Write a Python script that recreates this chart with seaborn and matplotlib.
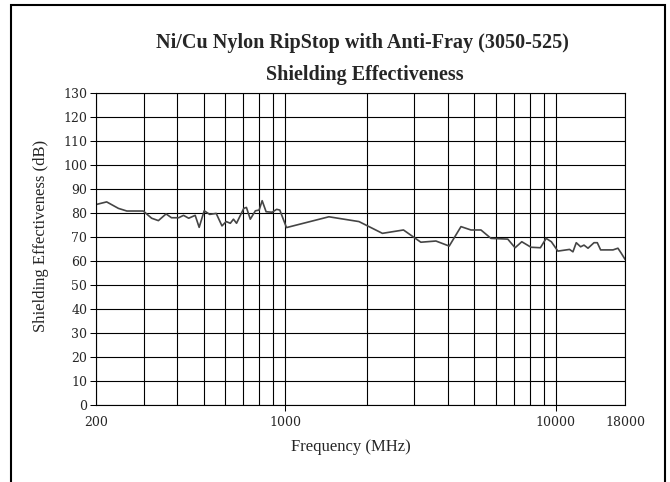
import matplotlib
matplotlib.use("Agg")
import matplotlib.pyplot as plt
import seaborn as sns
from matplotlib.patches import Rectangle
from matplotlib.ticker import FixedLocator, NullFormatter

# values
freq_mhz = [200, 219, 242, 260, 299, 321, 340, 363, 380, 404, 421, 440, 465, 481, 502,
            526, 556, 584, 605, 627, 644, 661, 703, 719, 743, 776, 801, 822, 850, 895,
            930, 955, 1011, 1450, 1873, 2286, 2735, 3170, 3604, 4035, 4460, 4856, 5286,
            5757, 6640, 7066, 7482, 8094, 8763, 9204, 9620, 10170, 11230, 11560, 11890,
            12340, 12700, 13140, 13830, 14220, 14630, 16250, 16950, 17440, 18000]
shielding_db = [83.4, 84.5, 81.8, 80.7, 80.7, 77.7, 76.7, 79.5, 77.9, 77.9, 78.9, 77.7,
                78.9, 73.9, 80.8, 79.3, 79.7, 74.5, 76.3, 75.6, 77.3, 75.6, 81.8, 82.2,
                77.3, 80.8, 81.1, 85.0, 80.4, 80.2, 81.4, 81.1, 73.8, 78.3, 76.3, 71.4,
                72.8, 67.7, 68.2, 66.1, 74.2, 72.8, 72.8, 69.3, 69.0, 65.4, 67.9, 65.6,
                65.4, 69.3, 67.9, 64.0, 64.7, 63.7, 67.5, 65.8, 66.5, 65.2, 67.5, 67.5,
                64.5, 64.5, 65.2, 63.1, 60.6]

x_ticks = [200, 1000, 10000, 18000]
x_tick_labels = ["200", "1000", "10000", "18000"]
x_grid = [300, 400, 500, 600, 700, 800, 900, 2000, 3000, 4000, 5000, 6000, 7000, 8000, 9000]
y_ticks = list(range(0, 131, 10))

title_1 = "Ni/Cu Nylon RipStop with Anti-Fray (3050-525)"
title_2 = "Shielding Effectiveness"

sns.set_style("ticks")
plt.rcParams['font.family'] = ['Liberation Serif', 'DejaVu Serif']

W, H = 670, 482
fig = plt.figure(figsize=(W / 100, H / 100), dpi=100)
ax = fig.add_axes([96 / W, (H - 404.7) / H, 529 / W, 312 / H])

sns.lineplot(x=freq_mhz, y=shielding_db, ax=ax, color="#454545", linewidth=1.2)

ax.set_xscale("log")
ax.set_xlim(200, 18000)
ax.set_ylim(0, 130)
ax.set_yticks(y_ticks)
ax.xaxis.set_major_locator(FixedLocator(x_ticks))
ax.set_xticklabels(x_tick_labels)
ax.xaxis.set_minor_locator(FixedLocator(x_grid))
ax.xaxis.set_minor_formatter(NullFormatter())

ax.tick_params(axis='x', which='minor', length=0)
ax.tick_params(axis='x', which='major', length=4.3, width=0.75, color='black', pad=3.5)
ax.tick_params(axis='y', length=4.3, width=0.75, color='black', pad=2)
# no tick marks at the two ends of the x axis
xt = ax.xaxis.get_major_ticks()
xt[0].tick1line.set_visible(False)
xt[-1].tick1line.set_visible(False)

ax.grid(True, axis='y', which='major', color='black', linewidth=0.8)
ax.grid(True, axis='x', which='both', color='black', linewidth=0.8)
ax.set_axisbelow(True)

for s in ax.spines.values():
    s.set_color('black')
    s.set_linewidth(0.8)

for lbl in ax.get_xticklabels() + ax.get_yticklabels():
    lbl.set_fontfamily('DejaVu Serif')
    lbl.set_fontsize(9)

ax.set_xlabel("")
ax.set_ylabel("")

fig.text(362 / W, 1 - 43 / H, title_1, ha='center', va='center', fontsize=14.5, fontweight='bold')
fig.text(365 / W, 1 - 75 / H, title_2, ha='center', va='center', fontsize=14.5, fontweight='bold')
fig.text(351 / W, 1 - 447 / H, "Frequency (MHz)", ha='center', va='center', fontsize=12)
fig.text(41 / W, 1 - 236 / H, "Shielding Effectiveness (dB)", ha='center', va='center',
         fontsize=12, rotation=90)

# black frame around the chart area
fig.add_artist(Rectangle((11 / W, -0.05), (665 - 11) / W, 1.05 - 5 / H, transform=fig.transFigure,
                         fill=False, edgecolor='black', linewidth=1.5))

fig.savefig("out.png", dpi=100)
